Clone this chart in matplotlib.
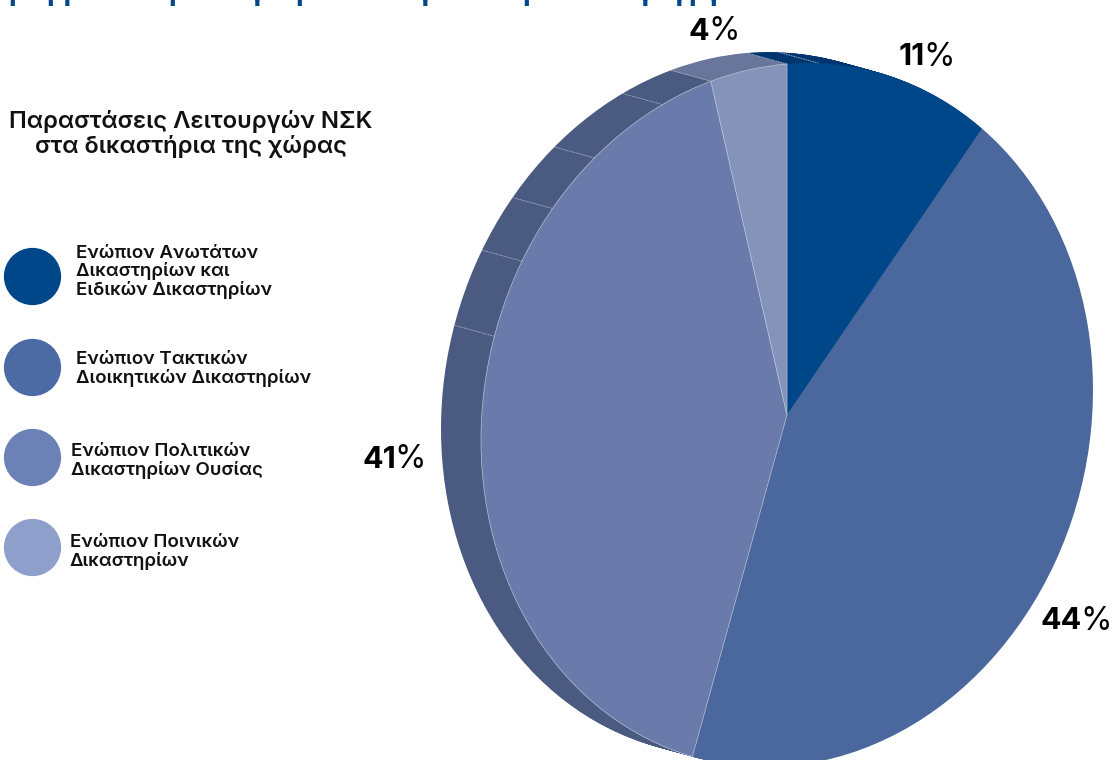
import matplotlib
matplotlib.use('Agg')
import matplotlib.pyplot as plt
from matplotlib.transforms import Affine2D
import numpy as np

plt.rcParams['font.family'] = ['Inter', 'DejaVu Sans']

shares = [11, 44, 41, 4]
share_labels = ['11', '44', '41', '4']
legend_labels = ['Ενώπιον Ανωτάτων\nΔικαστηρίων και\nΕιδικών Δικαστηρίων',
                 'Ενώπιον Τακτικών\nΔιοικητικών Δικαστηρίων',
                 'Ενώπιον Πολιτικών\nΔικαστηρίων Ουσίας',
                 'Ενώπιον Ποινικών\nΔικαστηρίων']
heading = 'Παραστάσεις Λειτουργών ΝΣΚ\nστα δικαστήρια της χώρας'

# the chart title is cut off by the top edge, only these tails can be seen
title_tails = ['ρ', 'ρρ', 'ρ', 'γ', 'ρ', 'γ', 'ρ', 'γ', 'γ', 'ργ']
title_tail_x = [8, 46, 168, 249, 295, 417, 522, 637, 671, 688]

top_colors = ['#00478a', '#4a679e', '#6a7aaa', '#8593ba']
rim_colors = ['#003570', '#4a679e', '#4b5a80', '#69759a']
legend_colors = ['#00478a', '#4c6ba5', '#6c81b5', '#8f9fcb']
edge_colors = ['none', 'none', '#b9c2d8', '#b9c2d8']

# rim joints, degrees clockwise from the top
rim_joints = [6, 287, 300, 310, 321, 336, 345.6, 0]

fig = plt.figure(figsize=(11.16, 7.6), dpi=100)
ax = fig.add_axes([0, 0, 1, 1])


def disc(dx, dy):
    # pie is sheared to look like the tilted disc
    return Affine2D(np.array([[306, 0, 787 + dx], [-25, -351, 415 + dy], [0, 0, 1]], dtype=float))


# rim: same pie stacked back to front
steps = 40
for i in range(steps, 0, -1):
    f = i / steps
    rim, _ = ax.pie(shares, colors=rim_colors, startangle=90, counterclock=False)
    for w in rim:
        w.set_transform(disc(-40 * f, -11 * f) + ax.transData)
        w.set_zorder(1)
        w.set_linewidth(0)

for a in rim_joints:
    t = np.radians(a)
    p = disc(0, 0).transform((np.sin(t), np.cos(t)))
    q = disc(-40, -11).transform((np.sin(t), np.cos(t)))
    ax.plot([p[0], q[0]], [p[1], q[1]], color='#aab3cc', lw=0.6, ls=(0, (2, 1)), zorder=2)

top, _ = ax.pie(shares, colors=top_colors, startangle=90, counterclock=False)
for w, ec in zip(top, edge_colors):
    w.set_transform(disc(0, 0) + ax.transData)
    w.set_zorder(3)
    w.set_edgecolor(ec)
    w.set_linewidth(0.5)

ax.set_aspect('auto')
ax.set_xlim(0, 1116)
ax.set_ylim(760, 0)
ax.axis('off')

for ch, x in zip(title_tails, title_tail_x):
    ax.text(x, 0, ch, fontsize=20, fontweight='bold', ha='left', va='baseline', color='#00478a')

# percentage labels
label_pos = [(899, 57), (1041, 621), (362, 460), (689, 32)]
for lab, (x, y) in zip(share_labels, label_pos):
    t = ax.text(x, y, lab, fontsize=22, fontweight='bold', ha='left', va='center', color='black')
    ax.annotate('%', xycoords=t, xy=(1, 0.5), xytext=(-1, 0), textcoords='offset points',
                va='center', ha='left', fontsize=23, color='black')

ax.text(191, 134, heading, fontsize=17.2, fontweight='semibold', ha='center', va='center',
        linespacing=1.12, color='#111111')

legend_y = [276, 367, 457, 547]
legend_x = [76, 76, 71, 70]
legend_text_y = [272, 369, 461, 552]
for y, x, ty, c, lab in zip(legend_y, legend_x, legend_text_y, legend_colors, legend_labels):
    ax.scatter([31.5], [y], s=1700, color=c, linewidths=0, clip_on=False, zorder=3)
    ax.text(x, ty, lab, fontsize=13.5, fontweight='semibold', ha='left', va='center',
            linespacing=1.03, color='#111111')

fig.savefig('out.png', dpi=100)
